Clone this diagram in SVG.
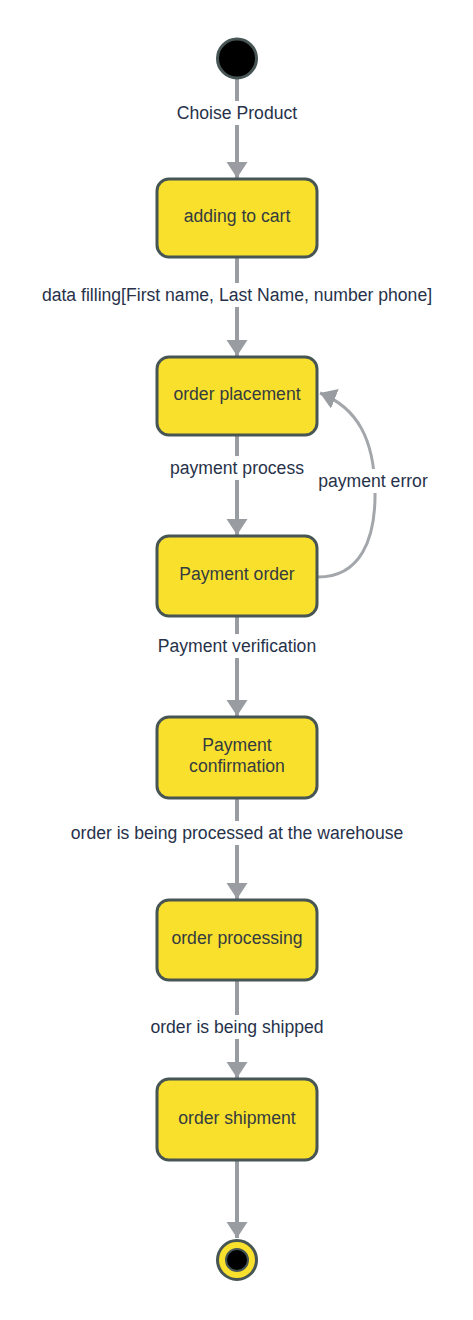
<svg xmlns="http://www.w3.org/2000/svg" width="473" height="1320" viewBox="0 0 473 1320">
<defs>
<style>
.node rect{fill:#f9e02c;stroke:#475555;stroke-width:3}
.ntext{font-family:"Liberation Sans",Arial,sans-serif;font-size:17.6px;fill:#343b41;text-anchor:middle}
.edge{stroke:#999da2;stroke-width:4;fill:none}
.loop{stroke:#a3a6aa;stroke-width:3;fill:none}
.lbl{font-family:"Liberation Sans",Arial,sans-serif;font-size:17.6px;fill:#27324a;text-anchor:middle}
.lblbg{fill:#ffffff}
</style>
<marker id="arr" markerUnits="userSpaceOnUse" markerWidth="18" markerHeight="22" refX="16" refY="10.5" orient="auto">
<path d="M0,0 L16,10.5 L0,21 z" fill="#999da2"/>
</marker>
</defs>
<rect width="473" height="1320" fill="#ffffff"/>
<g id="connectors">
<line class="edge" x1="237" y1="79" x2="237" y2="178" marker-end="url(#arr)"/>
<line class="edge" x1="237" y1="257" x2="237" y2="356" marker-end="url(#arr)"/>
<line class="edge" x1="237" y1="435" x2="237" y2="535" marker-end="url(#arr)"/>
<line class="edge" x1="237" y1="616" x2="237" y2="716" marker-end="url(#arr)"/>
<line class="edge" x1="237" y1="798" x2="237" y2="899" marker-end="url(#arr)"/>
<line class="edge" x1="237" y1="980" x2="237" y2="1078" marker-end="url(#arr)"/>
<line class="edge" x1="237" y1="1161" x2="237" y2="1238" marker-end="url(#arr)"/>
<path class="loop" d="M318,577 C360,577 376,540 375,490 C374,440 358,408 320,393" marker-end="url(#arr)"/>
<rect class="lblbg" x="173" y="101" width="128" height="24"/>
<text class="lbl" x="237" y="119">Choise Product</text>
<rect class="lblbg" x="36" y="283" width="402" height="24"/>
<text class="lbl" x="237" y="301">data filling[First name, Last Name, number phone]</text>
<rect class="lblbg" x="165" y="456" width="144" height="24"/>
<text class="lbl" x="237" y="474">payment process</text>
<rect class="lblbg" x="314" y="469" width="118" height="24"/>
<text class="lbl" x="373" y="487">payment error</text>
<rect class="lblbg" x="153" y="634" width="168" height="24"/>
<text class="lbl" x="237" y="652">Payment verification</text>
<rect class="lblbg" x="65" y="821" width="344" height="24"/>
<text class="lbl" x="237" y="839">order is being processed at the warehouse</text>
<rect class="lblbg" x="145" y="1015" width="184" height="24"/>
<text class="lbl" x="237" y="1033">order is being shipped</text>
</g>
<g id="start">
<circle cx="237" cy="58.5" r="19.5" fill="#000000" stroke="#475555" stroke-width="3"/>
</g>
<g id="n1" class="node">
<rect x="157" y="179" width="160" height="78" rx="12"/>
<text class="ntext" x="237" y="222">adding to cart</text>
</g>
<g id="n2" class="node">
<rect x="157" y="357" width="160" height="78" rx="12"/>
<text class="ntext" x="237" y="400">order placement</text>
</g>
<g id="n3" class="node">
<rect x="157" y="536" width="160" height="80" rx="12"/>
<text class="ntext" x="237" y="580">Payment order</text>
</g>
<g id="n4" class="node">
<rect x="157" y="717" width="160" height="81" rx="12"/>
<text class="ntext" x="237" y="751">Payment</text>
<text class="ntext" x="237" y="772">confirmation</text>
</g>
<g id="n5" class="node">
<rect x="157" y="900" width="160" height="80" rx="12"/>
<text class="ntext" x="237" y="944">order processing</text>
</g>
<g id="n6" class="node">
<rect x="157" y="1079" width="160" height="81" rx="12"/>
<text class="ntext" x="237" y="1124">order shipment</text>
</g>
<g id="end">
<circle cx="237" cy="1260" r="19.5" fill="#f9e02c" stroke="#475555" stroke-width="3"/>
<circle cx="237" cy="1260" r="11" fill="#000000" stroke="#475555" stroke-width="2"/>
</g>
</svg>
